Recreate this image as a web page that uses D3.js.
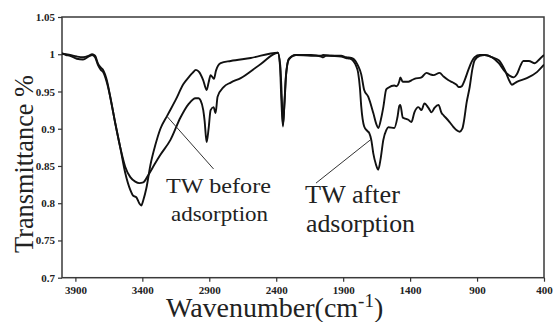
<!DOCTYPE html>
<html>
<head>
<meta charset="utf-8">
<script src="https://cdn.jsdelivr.net/npm/d3@7"></script>
<style>
  html, body { margin: 0; padding: 0; background: #fff; }
  svg { display: block; }
  text { font-family: "Liberation Serif", "Times New Roman", Times, "DejaVu Serif", serif; }
</style>
</head>
<body>
<svg id="chart" width="553" height="322"></svg>
<script>
// ---- data ----
const xTickValues = [3900, 3400, 2900, 2400, 1900, 1400, 900, 400];
const xTickLabels = ["3900", "3400", "2900", "2400", "1900", "1400", "900", "400"];
const yTickValues = [0.7, 0.75, 0.8, 0.85, 0.9, 0.95, 1.0, 1.05];
const yTickLabels = ["0.7", "0.75", "0.8", "0.85", "0.9", "0.95", "1", "1.05"];

const beforeWavenumber = [4000,3970,3940,3890,3843,3800,3775,3753,3730,3710,3693,3665,3640,3603,3565,3528,3490,3468,3445,3423,3408,3393,3370,3340,3303,3265,3213,3153,3093,3050,3025,3000,2975,2945,2920,2905,2890,2875,2865,2850,2815,2740,2590,2388,2370,2360,2350,2340,2328,2305,2253,2215,2140,2065,2050,2030,1990,1915,1878,1840,1818,1790,1765,1743,1713,1675,1650,1638,1615,1600,1578,1563,1518,1503,1480,1473,1455,1443,1413,1390,1368,1315,1278,1250,1225,1180,1150,1113,1080,1053,1038,1015,993,963,940,918,880,843,790,738,693,655,625,603,575,555,513,468,430,400];
const beforeTransmittance = [1.001,1.000,0.999,0.997,0.996,0.998,1.000,0.998,0.987,0.982,0.979,0.965,0.943,0.908,0.875,0.841,0.818,0.810,0.808,0.800,0.797,0.804,0.820,0.851,0.878,0.900,0.918,0.938,0.960,0.970,0.975,0.979,0.976,0.965,0.952,0.962,0.972,0.969,0.967,0.978,0.988,0.991,0.995,1.002,0.985,0.950,0.905,0.930,0.970,0.993,0.999,0.999,0.999,0.997,0.996,0.998,0.998,0.998,0.996,0.995,0.993,0.985,0.973,0.952,0.943,0.921,0.905,0.901,0.915,0.929,0.953,0.955,0.958,0.957,0.964,0.969,0.963,0.963,0.963,0.965,0.967,0.969,0.975,0.973,0.972,0.975,0.970,0.965,0.962,0.959,0.956,0.957,0.965,0.980,0.990,0.996,0.999,0.999,0.996,0.988,0.977,0.971,0.969,0.973,0.985,0.991,0.991,0.988,0.994,0.999];

const afterWavenumber = [4000,3970,3940,3890,3843,3800,3775,3753,3730,3710,3693,3665,3640,3603,3565,3528,3490,3453,3423,3393,3355,3303,3265,3190,3115,3055,3003,2980,2965,2945,2935,2920,2905,2890,2868,2853,2838,2793,2740,2665,2515,2388,2372,2362,2350,2338,2325,2305,2253,2140,2065,2050,1990,1915,1878,1850,1825,1805,1788,1775,1765,1743,1720,1705,1690,1675,1655,1638,1620,1600,1578,1563,1518,1495,1480,1473,1455,1443,1413,1390,1368,1338,1315,1293,1263,1240,1218,1188,1165,1150,1105,1075,1030,1010,1000,978,955,935,918,880,843,790,738,693,655,640,603,528,453,400];
const afterTransmittance = [1.001,0.999,0.998,0.994,0.993,0.997,0.999,0.996,0.985,0.979,0.976,0.962,0.943,0.908,0.875,0.849,0.835,0.829,0.827,0.828,0.838,0.854,0.865,0.885,0.915,0.933,0.941,0.941,0.938,0.925,0.911,0.882,0.900,0.925,0.929,0.921,0.943,0.956,0.962,0.968,0.987,1.002,0.985,0.940,0.903,0.935,0.975,0.994,0.999,0.998,0.998,0.999,0.998,0.997,0.995,0.994,0.991,0.985,0.975,0.955,0.930,0.903,0.897,0.894,0.885,0.867,0.852,0.845,0.860,0.885,0.898,0.902,0.901,0.915,0.931,0.932,0.915,0.914,0.912,0.909,0.922,0.929,0.925,0.934,0.928,0.922,0.928,0.932,0.921,0.918,0.909,0.902,0.896,0.900,0.908,0.935,0.956,0.980,0.992,0.998,0.999,0.996,0.992,0.979,0.963,0.959,0.963,0.968,0.976,0.986];

// ---- layout ----
const svg = d3.select("#chart");
const pLeft = 62, pRight = 544, pTop = 17, pBottom = 277.7;
const x = d3.scaleLinear().domain([4000, 400]).range([pLeft, pRight]);
const y = d3.scaleLinear().domain([0.7, 1.05]).range([pBottom, pTop]);

svg.append("defs").append("clipPath").attr("id", "clip")
  .append("rect").attr("x", pLeft).attr("y", pTop).attr("width", pRight - pLeft).attr("height", pBottom - pTop);

// frame
svg.append("rect").attr("x", pLeft).attr("y", pTop).attr("width", pRight - pLeft).attr("height", pBottom - pTop)
  .attr("fill", "none").attr("stroke", "#3a3a3a").attr("stroke-width", 1.5);

// axes
const xAxis = d3.axisBottom(x).tickValues(xTickValues)
  .tickFormat((d, i) => xTickLabels[i]).tickSize(4).tickPadding(5);
const gx = svg.append("g").attr("transform", `translate(0,${pBottom})`).call(xAxis);
const yAxis = d3.axisLeft(y).tickValues(yTickValues)
  .tickFormat((d, i) => yTickLabels[i]).tickSize(4).tickPadding(3);
const gy = svg.append("g").attr("transform", `translate(${pLeft},0)`).call(yAxis);
[gx, gy].forEach(g => {
  g.attr("font-family", null);
  g.select(".domain").remove();
  g.selectAll(".tick line").attr("stroke", "#333").attr("stroke-width", 1.2);
  g.selectAll(".tick text").attr("fill", "#222")
    .style("font-size", "11px").style("font-weight", "bold");
});

// curves
const line = d3.line().x(d => x(d[0])).y(d => y(d[1])).curve(d3.curveMonotoneX);
const beforeData = beforeWavenumber.map((w, i) => [w, beforeTransmittance[i]]);
const afterData = afterWavenumber.map((w, i) => [w, afterTransmittance[i]]);
const gc = svg.append("g").attr("clip-path", "url(#clip)");
[beforeData, afterData].forEach(data => {
  gc.append("path").datum(data).attr("d", line)
    .attr("fill", "none").attr("stroke", "#111").attr("stroke-width", 1.9)
    .attr("stroke-linejoin", "round");
});

// annotations (anchored in data units)
const pointers = [
  { from: [3213, 0.916], to: [2868, 0.846] },
  { from: [1690, 0.886], to: [2103, 0.827] }
];
pointers.forEach(p => {
  svg.append("line")
    .attr("x1", x(p.from[0])).attr("y1", y(p.from[1]))
    .attr("x2", x(p.to[0])).attr("y2", y(p.to[1]))
    .attr("stroke", "#333").attr("stroke-width", 1);
});
const notes = [
  { text: "TW before", x: 166, y: 193, size: 22, len: 105 },
  { text: "adsorption", x: 171, y: 221, size: 22, len: 97 },
  { text: "TW after", x: 305, y: 203, size: 25, len: 95 },
  { text: "adsorption", x: 306, y: 232, size: 25, len: 109 }
];
notes.forEach(n => {
  svg.append("text").attr("x", n.x).attr("y", n.y)
    .attr("textLength", n.len).attr("lengthAdjust", "spacingAndGlyphs")
    .style("font-size", n.size + "px").attr("fill", "#222")
    .text(n.text);
});

// axis titles
svg.append("text")
  .attr("transform", "translate(33,164) rotate(-90)")
  .attr("text-anchor", "middle")
  .attr("textLength", 178).attr("lengthAdjust", "spacingAndGlyphs")
  .style("font-size", "28px").attr("fill", "#222")
  .text("Transmittance %");

const xt = svg.append("text").attr("x", 166).attr("y", 317)
  .style("font-size", "28px").attr("fill", "#222");
xt.append("tspan").text("Wavenumber(cm");
xt.append("tspan").attr("dy", -10).style("font-size", "19px").text("-1");
xt.append("tspan").attr("dy", 10).text(")");
</script>
</body>
</html>
